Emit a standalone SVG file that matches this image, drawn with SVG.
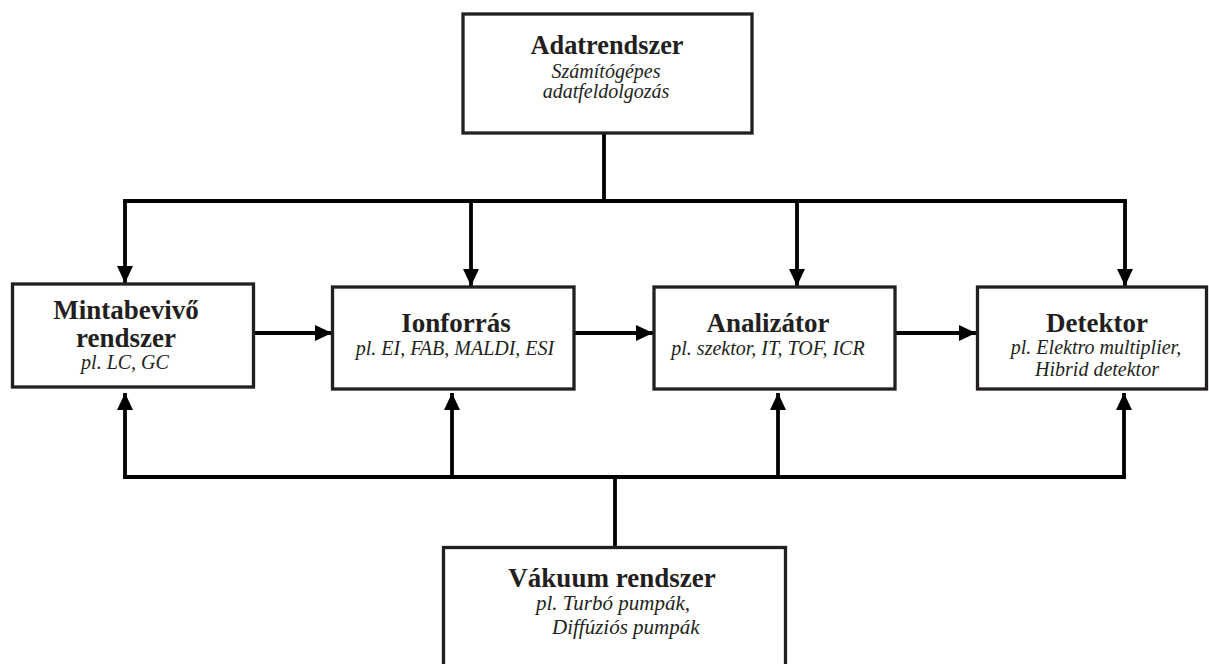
<svg xmlns="http://www.w3.org/2000/svg" width="1209" height="664" viewBox="0 0 1209 664">
<style>
  .box { fill: #ffffff; stroke: #231f20; stroke-width: 3.3; }
  .title { font-family: "Liberation Serif", "Times New Roman", serif; font-weight: bold; font-size: 27px; fill: #231f20; text-anchor: middle; }
  .sub { font-family: "Liberation Serif", "Times New Roman", serif; font-style: italic; font-size: 20px; fill: #231f20; text-anchor: middle; }
  .line { fill: none; stroke: #000000; stroke-width: 3.8; }
  .arr { fill: none; stroke: #000000; stroke-width: 3.8; marker-end: url(#ah); }
</style>
<defs>
  <marker id="ah" markerUnits="userSpaceOnUse" markerWidth="18" markerHeight="17" refX="17" refY="8" orient="auto">
    <path d="M0,0 L17,8 L0,16 Z" fill="#000000"/>
  </marker>
</defs>
<rect width="1209" height="664" fill="#ffffff"/>

<g id="connectors">
  <path class="line" d="M604,133 V201"/>
  <path class="line" d="M123.1,201 H1126.9"/>
  <path class="arr" d="M125,201 V283"/>
  <path class="arr" d="M471,201 V286"/>
  <path class="arr" d="M797,201 V286"/>
  <path class="arr" d="M1125,201 V286"/>
  <path class="arr" d="M253,333 H332"/>
  <path class="arr" d="M574,333 H653"/>
  <path class="arr" d="M895,333 H976"/>
  <path class="line" d="M123.1,477 H1125.9"/>
  <path class="arr" d="M125,477 V393"/>
  <path class="arr" d="M452,477 V393"/>
  <path class="arr" d="M778,477 V393"/>
  <path class="arr" d="M1124,477 V393"/>
  <path class="line" d="M615,477 V547"/>
</g>

<g id="adatrendszer">
  <rect class="box" x="463" y="14" width="289" height="119"/>
  <text class="title" x="607" y="54" textLength="153" lengthAdjust="spacingAndGlyphs">Adatrendszer</text>
  <text class="sub" x="606" y="78">Számítógépes</text>
  <text class="sub" x="606" y="98">adatfeldolgozás</text>
</g>

<g id="mintabevivo">
  <rect class="box" x="12.5" y="284" width="241" height="103"/>
  <text class="title" x="126" y="319">Mintabevivő</text>
  <text class="title" x="126" y="347">rendszer</text>
  <text class="sub" x="125" y="369">pl. LC, GC</text>
</g>

<g id="ionforras">
  <rect class="box" x="332.5" y="287" width="241.5" height="102"/>
  <text class="title" x="456" y="332">Ionforrás</text>
  <text class="sub" x="455" y="355">pl. EI, FAB, MALDI, ESI</text>
</g>

<g id="analizator">
  <rect class="box" x="654" y="287" width="241" height="102"/>
  <text class="title" x="768" y="332">Analizátor</text>
  <text class="sub" x="768" y="355">pl. szektor, IT, TOF, ICR</text>
</g>

<g id="detektor">
  <rect class="box" x="977.5" y="287" width="229" height="102"/>
  <text class="title" x="1097" y="332">Detektor</text>
  <text class="sub" x="1096" y="354">pl. Elektro multiplier,</text>
  <text class="sub" x="1097" y="376">Hibrid detektor</text>
</g>

<g id="vakuum">
  <rect class="box" x="443.5" y="547.5" width="342" height="130"/>
  <text class="title" x="612" y="587">Vákuum rendszer</text>
  <text class="sub" x="536" y="610" style="text-anchor:start; font-size:21px">pl. Turbó pumpák,</text>
  <text class="sub" x="552" y="634" style="text-anchor:start; font-size:21px">Diffúziós pumpák</text>
</g>
</svg>
